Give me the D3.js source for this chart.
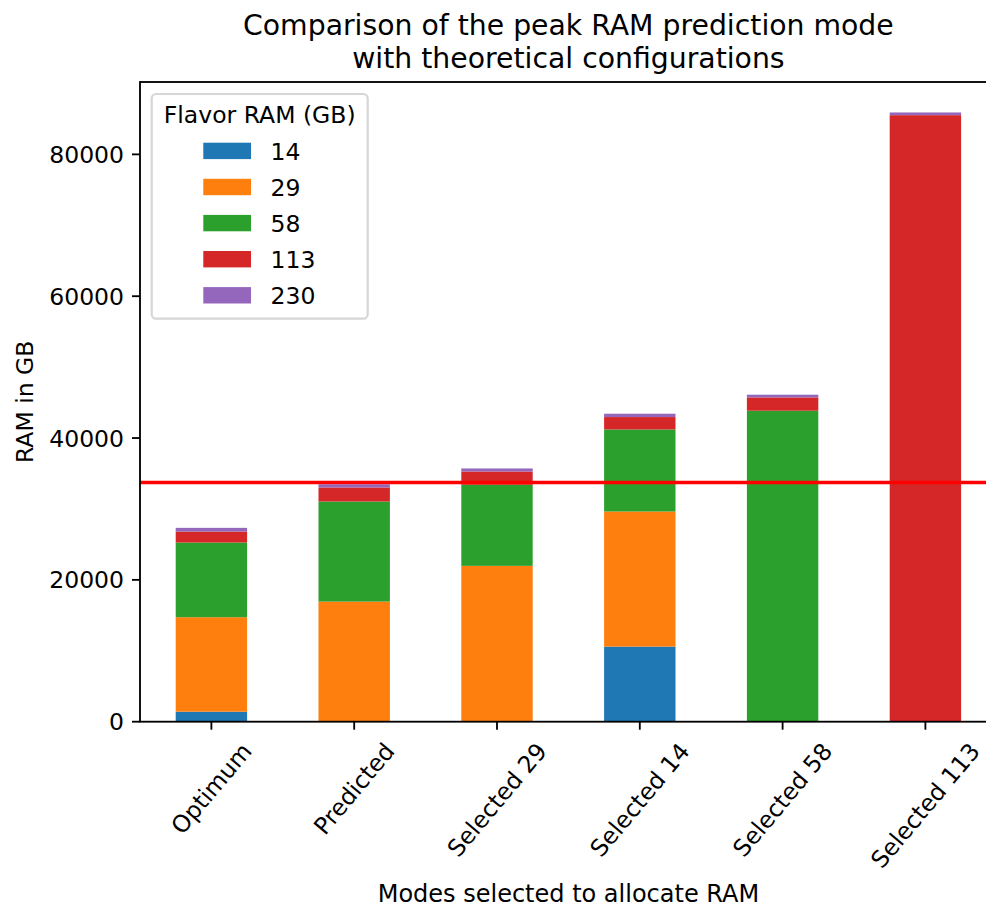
<!DOCTYPE html>
<html>
<head>
<meta charset="utf-8">
<script src="https://cdn.jsdelivr.net/npm/d3@7"></script>
<style>
  html, body { margin: 0; padding: 0; background: #fff; }
  svg { display: block; font-family: "DejaVu Sans", sans-serif; }
</style>
</head>
<body>
<svg id="chart" width="986" height="907"></svg>
<script>
// ---- data ----
const categories = ["Optimum", "Predicted", "Selected 29", "Selected 14", "Selected 58", "Selected 113"];
const flavors = ["14", "29", "58", "113", "230"];
const ram14  = [1410, 0, 0, 10590, 0, 0];
const ram29  = [13325, 16940, 21975, 19050, 0, 0];
const ram58  = [10530, 14110, 11430, 11570, 43850, 0];
const ram113 = [1550, 1980, 1880, 1750, 1880, 85530];
const ram230 = [520, 450, 425, 470, 380, 380];
const thresholdValue = 33730;
const yTicks = [0, 20000, 40000, 60000, 80000];
const titleLines = ["Comparison of the peak RAM prediction mode", "with theoretical configurations"];
const xLabel = "Modes selected to allocate RAM";
const yLabel = "RAM in GB";
const legendTitle = "Flavor RAM (GB)";
const colors = ["#1f77b4", "#ff7f0e", "#2ca02c", "#d62728", "#9467bd"];

(function () {
const seriesValues = [ram14, ram29, ram58, ram113, ram230];
const table = categories.map((c, i) => {
  const row = { cat: c };
  flavors.forEach((f, k) => row[f] = seriesValues[k][i]);
  return row;
});

// ---- layout ----
const pL = 140, pR = 996.8, pT = 82, pB = 721.7;
const fs = 23.5;
const svg = d3.select("#chart");

const totals = table.map(r => flavors.reduce((s, f) => s + r[f], 0));
const ymax = d3.max(totals) * 1.05;

const x = d3.scaleLinear().domain([-0.5, categories.length - 0.5]).range([pL, pR]);
const y = d3.scaleLinear().domain([0, ymax]).range([pB, pT]);
const barW = x(0.5) - x(0);

const stack = d3.stack().keys(flavors)(table);

// bars
const g = svg.append("g");
stack.forEach((layer, k) => {
  g.selectAll(null).data(layer).enter().append("rect")
    .attr("x", (d, i) => x(i) - barW / 2)
    .attr("width", barW)
    .attr("y", d => y(d[1]))
    .attr("height", d => Math.max(0, y(d[0]) - y(d[1])))
    .attr("fill", colors[k]);
});

// threshold line
svg.append("line")
  .attr("x1", pL).attr("x2", pR)
  .attr("y1", y(thresholdValue)).attr("y2", y(thresholdValue))
  .attr("stroke", "#ff0000").attr("stroke-width", 3.4);

// spines
const sw = 1.83;
svg.append("rect")
  .attr("x", pL).attr("y", pT)
  .attr("width", pR - pL).attr("height", pB - pT)
  .attr("fill", "none").attr("stroke", "#000").attr("stroke-width", sw);

// y ticks
const yAxis = svg.append("g");
yTicks.forEach(t => {
  yAxis.append("line").attr("x1", pL - 8).attr("x2", pL)
    .attr("y1", y(t)).attr("y2", y(t)).attr("stroke", "#000").attr("stroke-width", sw);
  yAxis.append("text").attr("x", pL - 16).attr("y", y(t) + 0.364 * fs)
    .attr("text-anchor", "end").attr("font-size", fs).attr("fill", "#000").text(t);
});

// x ticks
const ang = 50 * Math.PI / 180;
const xAxis = svg.append("g");
categories.forEach((c, i) => {
  xAxis.append("line").attr("x1", x(i)).attr("x2", x(i))
    .attr("y1", pB).attr("y2", pB + 8).attr("stroke", "#000").attr("stroke-width", sw);
  const t = xAxis.append("text").attr("font-size", fs).attr("fill", "#000")
    .attr("text-anchor", "middle").text(c);
  const L = t.node().getComputedTextLength();
  const h = fs * 1.164;
  const H = L * Math.sin(ang) + h * Math.cos(ang);
  const cy = pB + 16 + H / 2;
  t.attr("transform", `translate(${x(i)},${cy}) rotate(-50)`)
   .attr("dy", (0.346 * fs) + "px");
});

// axis labels
svg.append("text").attr("x", (pL + pR) / 2).attr("y", 902)
  .attr("text-anchor", "middle").attr("font-size", 24).text(xLabel);
svg.append("text").attr("transform", `translate(33,${(pT + pB) / 2}) rotate(-90)`)
  .attr("text-anchor", "middle").attr("font-size", fs).text(yLabel);

// title
titleLines.forEach((l, i) => {
  svg.append("text").attr("x", (pL + pR) / 2).attr("y", 35 + i * 33)
    .attr("text-anchor", "middle").attr("font-size", 28.3).text(l);
});

// legend
const lg = svg.append("g");
lg.append("rect").attr("x", 151.7).attr("y", 94).attr("width", 216).attr("height", 224.7)
  .attr("rx", 4.5).attr("fill", "rgba(255,255,255,0.8)")
  .attr("stroke", "#d6d6d6").attr("stroke-width", 2.2);
lg.append("text").attr("x", 259.7).attr("y", 123).attr("text-anchor", "middle")
  .attr("font-size", fs).text(legendTitle);
flavors.forEach((f, k) => {
  const cy = 150.9 + k * 36.1;
  lg.append("rect").attr("x", 203.3).attr("y", cy - 8.2).attr("width", 47.7).attr("height", 16.4)
    .attr("fill", colors[k]);
  lg.append("text").attr("x", 270.5).attr("y", cy + 8.6).attr("font-size", fs).text(f);
});
})();
</script>
</body>
</html>
